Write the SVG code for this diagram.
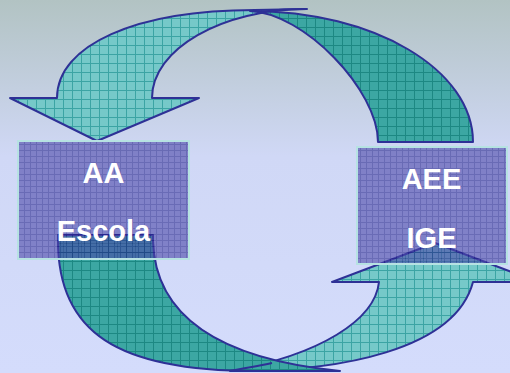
<svg xmlns="http://www.w3.org/2000/svg" width="510" height="373" viewBox="0 0 510 373">
<defs>
<linearGradient id="bg" x1="0" y1="0" x2="0" y2="373" gradientUnits="userSpaceOnUse">
<stop offset="0" stop-color="#b2c3c3"/>
<stop offset="0.42" stop-color="#d0d8f6"/>
<stop offset="1" stop-color="#d4dcfc"/>
</linearGradient>
<pattern id="pl" width="9" height="9" patternUnits="userSpaceOnUse">
<rect width="9" height="9" fill="#76c9c9"/>
<path d="M0 0.5H9M0.5 0V9" stroke="#3ca4a4" stroke-width="1"/>
</pattern>
<pattern id="pd" width="9" height="9" patternUnits="userSpaceOnUse">
<rect width="9" height="9" fill="#3ca7a3"/>
<path d="M0 0.5H9M0.5 0V9" stroke="#1d8883" stroke-width="1"/>
</pattern>
<pattern id="pb" width="6" height="6" patternUnits="userSpaceOnUse">
<rect width="6" height="6" fill="#4a46a8"/>
<path d="M0 0.5H6M0.5 0V6" stroke="#24228a" stroke-width="1"/>
</pattern>
<style>
.arrow{stroke:#2e3196;stroke-width:2;stroke-linejoin:round}
.light{fill:url(#pl)}
.dark{fill:url(#pd)}
.edge{fill:none;stroke:#2e3196;stroke-width:2}
.box{fill:url(#pb);fill-opacity:0.6;stroke:none}
.frame{fill:none;stroke:#b6e2e2;stroke-width:2}
.lbl{fill:#ffffff;font-family:"Liberation Sans",Arial,sans-serif;font-weight:bold;font-size:29px;text-anchor:middle}
</style>
</defs>
<rect width="510" height="373" fill="url(#bg)"/>
<g id="connectors">
  <g id="top-arrow">
    <path class="arrow light" d="M10,98 L57,98 C57,45 136,10 255,10 L307,9 C222,9 152,49 152,98 L199,98 L97,141 Z"/>
    <path class="arrow dark" d="M250,11 C375,11 473,70 473,142 L378,142 C378,90 304,13 250,11 Z"/>
    <path class="edge" d="M307,9 C285,9 270,10 258,13"/>
  </g>
  <g id="bottom-arrow">
    <path class="arrow light" d="M473,282 L538,282 L435,243 L332,282 L379,282 C375,320 320,355 230,371 C340,372 455,350 473,282 Z"/>
    <path class="arrow dark" d="M58,235 L153,235 L153,241 C155,310 210,358 340,371 L255,371 C117,371 58,332 58,241 Z"/>
    <path class="edge" d="M230,371 C245,368 258,366 272,363"/>
  </g>
</g>
<g id="node-aa">
  <rect class="box" x="18" y="141" width="171" height="118"/>
  <rect class="frame" x="18" y="141" width="171" height="118"/>
  <text class="lbl" x="103.5" y="183">AA</text>
  <text class="lbl" x="103.5" y="241">Escola</text>
</g>
<g id="node-aee">
  <rect class="box" x="357" y="147" width="150" height="117"/>
  <rect class="frame" x="357" y="147" width="150" height="117"/>
  <text class="lbl" x="431.5" y="189">AEE</text>
  <text class="lbl" x="431.5" y="248">IGE</text>
</g>
</svg>
